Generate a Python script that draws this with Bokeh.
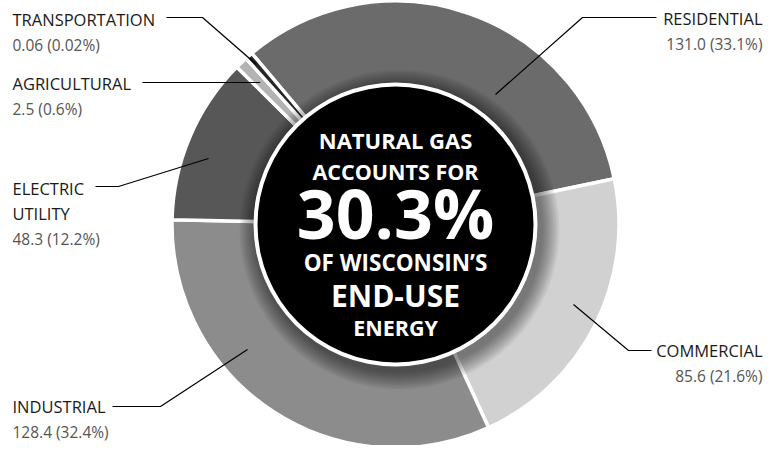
import math
from bokeh.plotting import figure
from bokeh.models import Range1d, ColumnDataSource
from bokeh.core.properties import value
from bokeh.embed import file_html
from bokeh.resources import INLINE

# ---- data ----
categories = ["RESIDENTIAL", "COMMERCIAL", "INDUSTRIAL", "ELECTRIC UTILITY", "AGRICULTURAL", "TRANSPORTATION"]
values = [131.0, 85.6, 128.4, 48.3, 2.5, 0.06]
percents = ["33.1%", "21.6%", "32.4%", "12.2%", "0.6%", "0.02%"]
value_labels = ["131.0", "85.6", "128.4", "48.3", "2.5", "0.06"]
colors = ["#6b6b6b", "#d1d1d1", "#8c8c8c", "#575757", "#b3b3b3", "#262626"]
center_lines = ["NATURAL GAS", "ACCOUNTS FOR", "30.3%", "OF WISCONSIN\u2019S", "END-USE", "ENERGY"]

# ---- layout ----
W, H = 765, 445
def sy(y):  # screen y -> data y
    return H - y

CX, CY = 395, 224
R_OUT, R_IN = 222, 128
START_DEG = -40.0      # clockwise from 12 o'clock
MIN_DEG = 1.0          # tiny slices are widened so that they stay visible
SMALL_PAD = 1.0

p = figure(width=W, height=H, x_range=Range1d(0, W), y_range=Range1d(0, H),
           output_backend="svg", toolbar_location=None, x_axis_type=None, y_axis_type=None,
           min_border=0, outline_line_color=None)
p.grid.visible = False
p.background_fill_color = "white"
p.border_fill_color = "white"

total = sum(values)
degs = []
for v in values:
    d = v / total * 360.0
    degs.append(max(d, MIN_DEG) + (SMALL_PAD if d < 5 else 0.0))
scale = 360.0 / sum(degs)
degs = [d * scale for d in degs]
starts, ends, mids = [], [], []
c = START_DEG
for d in degs:
    starts.append(math.radians(90 - c))
    ends.append(math.radians(90 - (c + d)))
    mids.append(c + d / 2)
    c += d

src = ColumnDataSource(dict(x=[CX] * len(values), y=[sy(CY)] * len(values),
                            start=starts, end=ends, color=colors))
p.annular_wedge(x="x", y="y", inner_radius=R_IN, outer_radius=R_OUT + 1.5, start_angle="start",
                end_angle="end", direction="clock", fill_color="color",
                line_color="white", line_width=3.5, source=src)

# shadow around centre disc
n = 12
for i in range(n):
    r = 160 - i * 1.5
    p.circle(x=[CX + 4], y=[sy(CY + 5)], radius=r, fill_color="black", fill_alpha=0.045,
             line_color=None)

p.circle(x=[CX], y=[sy(CY)], radius=142, fill_color="white", line_color=None)
p.circle(x=[CX], y=[sy(CY)], radius=138, fill_color="black", line_color=None)

# centre text
dy_lines = [-85, -53, -12, 38, 71, 103]
sizes = ["22px", "21.5px", "68px", "22.5px", "30px", "21.5px"]
for t, dy, s in zip(center_lines, dy_lines, sizes):
    p.text(x=[CX], y=[sy(CY + dy)], text=[t], text_color="white", text_font=value("Open Sans"),
           text_font_style="bold", text_font_size=s, text_align="center", text_baseline="middle")

# labels
FONT = value("Open Sans")
LBL = "16.5px"
VAL = "15.5px"
left_labels = [
    (["TRANSPORTATION"], 5, 19),
    (["AGRICULTURAL"], 4, 83),
    (["ELECTRIC", "UTILITY"], 3, 188),
    (["INDUSTRIAL"], 2, 406),
]
right_labels = [
    (["RESIDENTIAL"], 0, 18),
    (["COMMERCIAL"], 1, 350),
]
LH = 25
XL, XR = 12, 762
for lines, idx, y0 in left_labels:
    for k, ln in enumerate(lines):
        p.text(x=[XL], y=[sy(y0 + k * LH)], text=[ln], text_color="#1a1a1a", text_font=FONT,
               text_font_size=LBL, text_align="left", text_baseline="middle")
    p.text(x=[XL], y=[sy(y0 + len(lines) * LH)], text=[f"{value_labels[idx]} ({percents[idx]})"],
           text_color="#555555", text_font=FONT, text_font_size=VAL,
           text_align="left", text_baseline="middle")
for lines, idx, y0 in right_labels:
    for k, ln in enumerate(lines):
        p.text(x=[XR], y=[sy(y0 + k * LH)], text=[ln], text_color="#1a1a1a", text_font=FONT,
               text_font_size=LBL, text_align="right", text_baseline="middle")
    p.text(x=[XR], y=[sy(y0 + len(lines) * LH)], text=[f"{value_labels[idx]} ({percents[idx]})"],
           text_color="#555555", text_font=FONT, text_font_size=VAL,
           text_align="right", text_baseline="middle")

# leader lines
def polar(deg, r):
    a = math.radians(deg)
    return (CX + r * math.sin(a), CY - r * math.cos(a))

t_end = polar(mids[5], 212)
a_y = 82
a_r = (CY - a_y) / math.cos(math.radians(mids[4]))
a_end = polar(mids[4], a_r)
leaders = [
    [(166, 17), (202, 17), t_end],
    [(142, a_y), a_end],
    [(95, 186), (118, 186), (CX - 187, CY - 66)],
    [(112, 406), (160, 406), (CX - 148, CY + 125)],
    [(656, 17), (582, 17), (CX + 100, CY - 130)],
    [(651, 350), (628, 350), (CX + 178, CY + 80)],
]
for pts in leaders:
    p.line(x=[q[0] for q in pts], y=[sy(q[1]) for q in pts], line_color="black", line_width=1.2)

open("out.html", "w").write(file_html(p, INLINE))
